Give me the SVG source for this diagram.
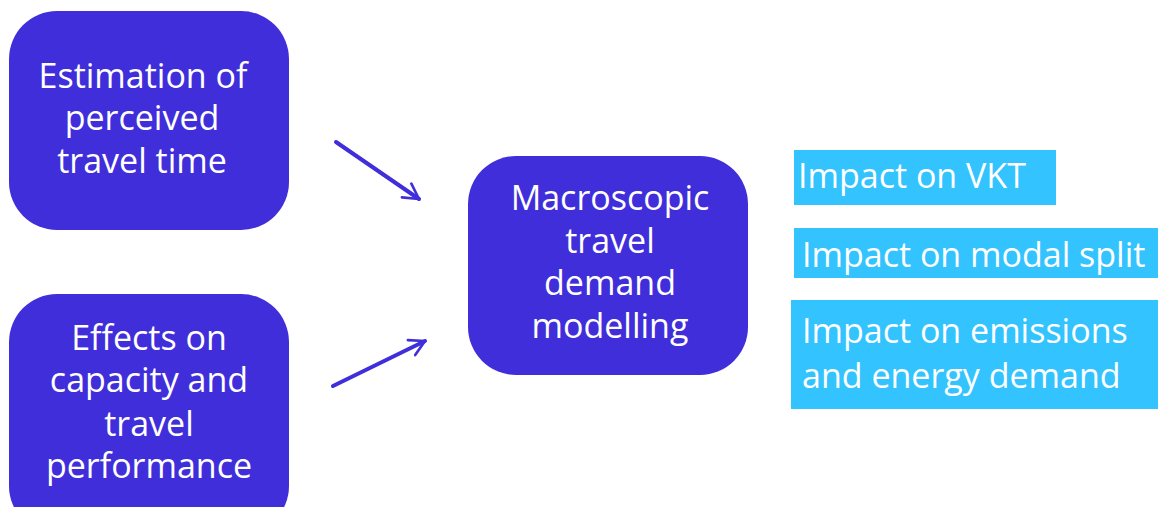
<svg xmlns="http://www.w3.org/2000/svg" width="1158" height="507" viewBox="0 0 1158 507">
  <style>
    .node { fill: #402edb; }
    .out { fill: #33c3ff; }
    .lbl { font-family: "Open Sans", "Noto Sans", sans-serif; font-size: 34px; fill: #ffffff; }
    .mid { text-anchor: middle; }
    .conn { stroke: #402edb; stroke-width: 4; fill: none; stroke-linecap: round; }
  </style>
  <defs>
    <marker id="head" viewBox="0 0 12 12" refX="10" refY="6" markerWidth="5" markerHeight="5" orient="auto" markerUnits="strokeWidth">
      <path d="M1,1 L10,6 L1,11" fill="none" stroke="#402edb" stroke-width="1.6" stroke-linecap="round" stroke-linejoin="round"/>
    </marker>
  </defs>

  <rect width="1158" height="507" fill="#ffffff"/>

  <g id="perceived-time">
    <rect class="node" x="9" y="11" width="280" height="219" rx="48"/>
    <text class="lbl mid" x="143" y="88">Estimation of</text>
    <text class="lbl mid" x="142" y="130">perceived</text>
    <text class="lbl mid" x="142" y="173">travel time</text>
  </g>

  <g id="capacity-effects">
    <rect class="node" x="9" y="294" width="280" height="240" rx="48"/>
    <text class="lbl mid" x="149" y="350">Effects on</text>
    <text class="lbl mid" x="149" y="392">capacity and</text>
    <text class="lbl mid" x="149" y="436">travel</text>
    <text class="lbl mid" x="149" y="478">performance</text>
  </g>

  <g id="demand-model">
    <rect class="node" x="468" y="156" width="280" height="219" rx="48"/>
    <text class="lbl mid" x="610" y="210">Macroscopic</text>
    <text class="lbl mid" x="610" y="253">travel</text>
    <text class="lbl mid" x="610" y="295">demand</text>
    <text class="lbl mid" x="610" y="338">modelling</text>
  </g>

  <g id="impact-vkt">
    <rect class="out" x="794" y="150" width="262" height="55"/>
    <text class="lbl" x="798" y="188">Impact on VKT</text>
  </g>

  <g id="impact-modal">
    <rect class="out" x="794" y="228" width="364" height="50"/>
    <text class="lbl" x="802" y="267">Impact on modal split</text>
  </g>

  <g id="impact-emissions">
    <rect class="out" x="791" y="300" width="367" height="109"/>
    <text class="lbl" x="802" y="343">Impact on emissions</text>
    <text class="lbl" x="802" y="388">and energy demand</text>
  </g>

  <g id="connectors">
    <line class="conn" x1="336" y1="142" x2="419" y2="199" marker-end="url(#head)"/>
    <line class="conn" x1="333" y1="386" x2="425" y2="341" marker-end="url(#head)"/>
  </g>
</svg>
